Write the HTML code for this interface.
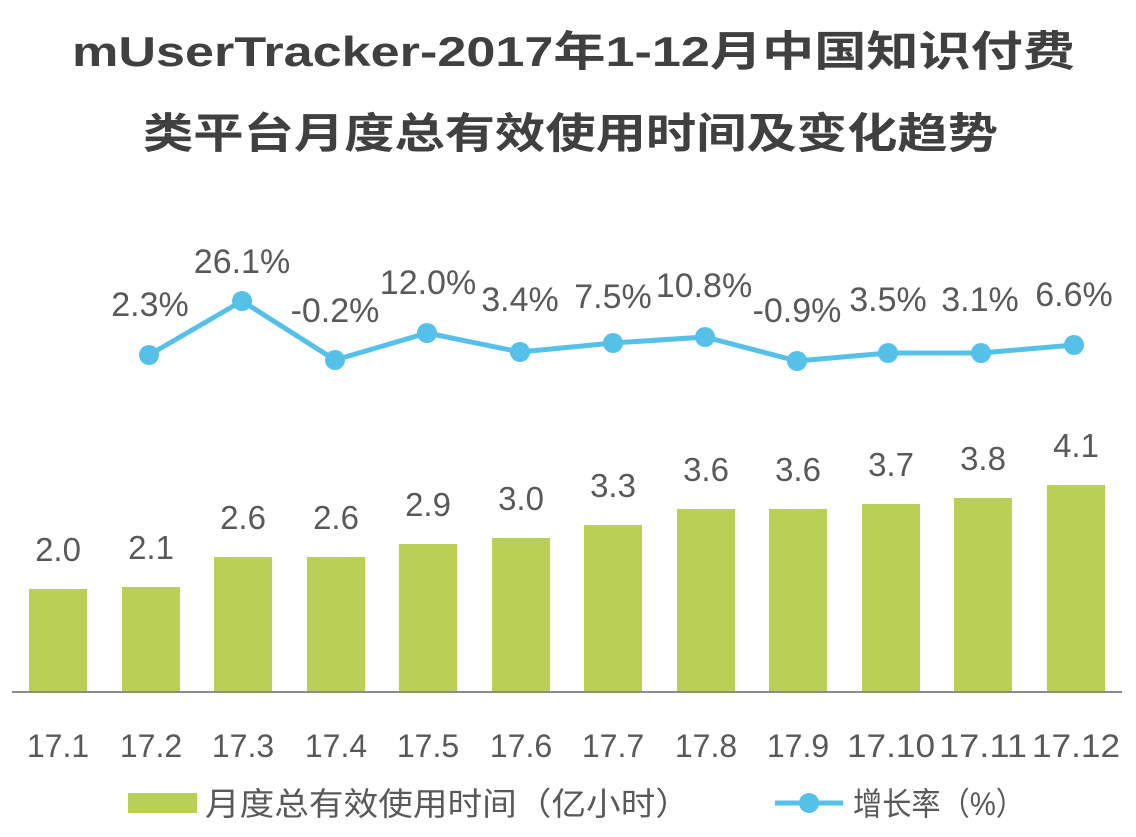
<!DOCTYPE html>
<html><head><meta charset="utf-8"><style>
html,body{margin:0;padding:0;background:#fff}
svg text{font-family:"Liberation Sans","Noto Sans CJK SC",sans-serif;fill:#595959}
</style></head><body>
<svg width="1136" height="832" viewBox="0 0 1136 832" xmlns="http://www.w3.org/2000/svg">
<text x="72" y="66" font-size="42" font-weight="bold" textLength="1003" lengthAdjust="spacingAndGlyphs" style="fill:#404040">mUserTracker-2017年1-12月中国知识付费</text>
<text x="143" y="148" font-size="42" font-weight="bold" textLength="855" lengthAdjust="spacingAndGlyphs" style="fill:#404040">类平台月度总有效使用时间及变化趋势</text>
<g fill="#b9cf55">
<rect x="29" y="589" width="58" height="103"/>
<rect x="122" y="587" width="58" height="105"/>
<rect x="214" y="557" width="58" height="135"/>
<rect x="307" y="557" width="58" height="135"/>
<rect x="399" y="544" width="58" height="148"/>
<rect x="492" y="538" width="58" height="154"/>
<rect x="584" y="525" width="58" height="167"/>
<rect x="677" y="509" width="58" height="183"/>
<rect x="769" y="509" width="58" height="183"/>
<rect x="862" y="504" width="58" height="188"/>
<rect x="954" y="498" width="58" height="194"/>
<rect x="1047" y="485" width="58" height="207"/>
</g>
<line x1="12" y1="692" x2="1122" y2="692" stroke="#8c8c8c" stroke-width="2"/>
<g font-size="33" text-anchor="middle">
<text x="58" y="561">2.0</text><text x="151" y="559">2.1</text><text x="243" y="529">2.6</text><text x="336" y="529">2.6</text>
<text x="428" y="516">2.9</text><text x="521" y="510">3.0</text><text x="613" y="497">3.3</text><text x="706" y="481">3.6</text>
<text x="798" y="481">3.6</text><text x="891" y="476">3.7</text><text x="983" y="470">3.8</text><text x="1076" y="457">4.1</text>
</g>
<g font-size="32" text-anchor="middle">
<text x="58" y="757">17.1</text><text x="151" y="757">17.2</text><text x="243" y="757">17.3</text><text x="336" y="757">17.4</text>
<text x="428" y="757">17.5</text><text x="521" y="757">17.6</text><text x="613" y="757">17.7</text><text x="706" y="757">17.8</text>
<text x="798" y="757">17.9</text><text x="891" y="757" textLength="88" lengthAdjust="spacingAndGlyphs">17.10</text><text x="983" y="757" textLength="88" lengthAdjust="spacingAndGlyphs">17.11</text><text x="1076" y="757" textLength="88" lengthAdjust="spacingAndGlyphs">17.12</text>
</g>
<polyline points="149,355 242,301 335,360 427,333 520,352 613,343 705,337 797,361 888,353 981,353 1074,345" fill="none" stroke="#56c1e8" stroke-width="5" stroke-linejoin="round"/>
<g fill="#56c1e8">
<circle cx="149" cy="355" r="10"/><circle cx="242" cy="301" r="10"/><circle cx="335" cy="360" r="10"/><circle cx="427" cy="333" r="10"/>
<circle cx="520" cy="352" r="10"/><circle cx="613" cy="343" r="10"/><circle cx="705" cy="337" r="10"/><circle cx="797" cy="361" r="10"/>
<circle cx="888" cy="353" r="10"/><circle cx="981" cy="353" r="10"/><circle cx="1074" cy="345" r="10"/>
</g>
<g font-size="34" text-anchor="middle">
<text x="150" y="316">2.3%</text><text x="242" y="273">26.1%</text><text x="335" y="322">-0.2%</text><text x="428" y="294">12.0%</text>
<text x="520" y="311">3.4%</text><text x="613" y="308">7.5%</text><text x="704" y="297">10.8%</text><text x="797" y="322">-0.9%</text>
<text x="888" y="311">3.5%</text><text x="980" y="311">3.1%</text><text x="1074" y="306">6.6%</text>
</g>
<rect x="128" y="793" width="69" height="20" fill="#b9cf55"/>
<text x="205" y="815" font-size="32" textLength="485" lengthAdjust="spacingAndGlyphs">月度总有效使用时间（亿小时）</text>
<line x1="775" y1="803" x2="843" y2="803" stroke="#56c1e8" stroke-width="5"/>
<circle cx="809" cy="803" r="10" fill="#56c1e8"/>
<text x="853" y="815" font-size="32" textLength="172" lengthAdjust="spacingAndGlyphs">增长率（%）</text>
</svg>
</body></html>
